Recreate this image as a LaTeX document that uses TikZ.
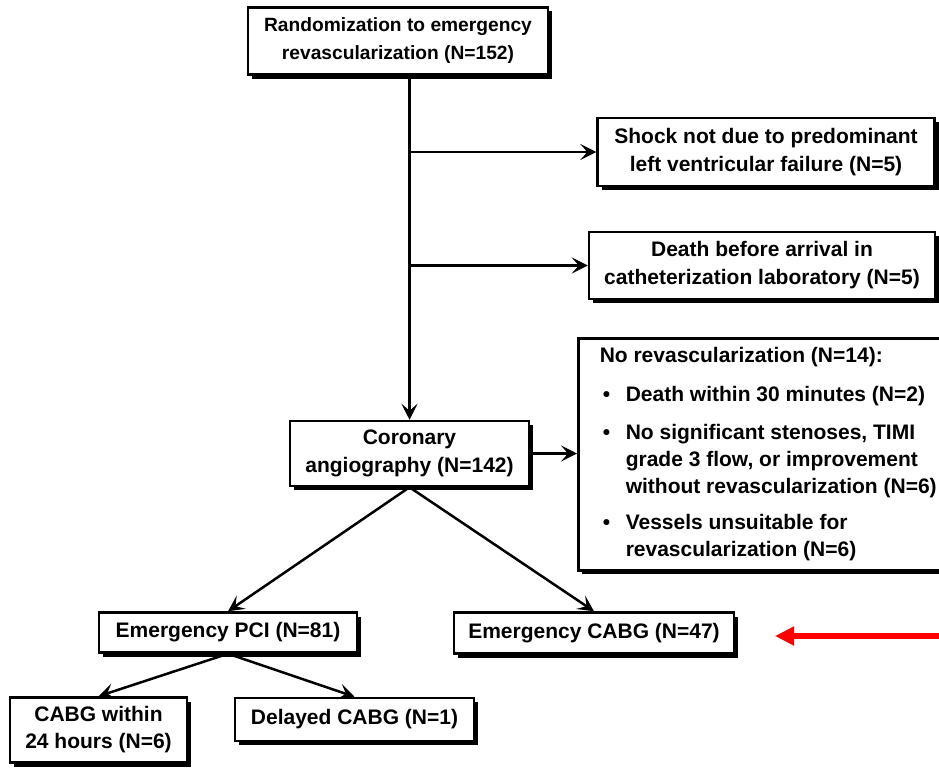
\documentclass[tikz,border=0pt]{standalone}
\usepackage{fontspec}
\setmainfont{Liberation Sans}
\usetikzlibrary{arrows.meta,shadows}

\begin{document}
\begin{tikzpicture}[x=1pt,y=-1pt,
    box/.style={draw,line width=2.5pt,fill=white,align=center,inner sep=0pt,
      font=\bfseries\fontsize{21}{28}\selectfont,
      drop shadow={shadow xshift=4pt,shadow yshift=-4pt,fill=black,opacity=1}},
    flow/.style={line width=2.5pt,-{Stealth[length=16pt,width=16pt,inset=7pt]}}]
  \useasboundingbox (0,0) rectangle (939,768);
  % main column
  \node[box,minimum width=300,minimum height=67,font=\bfseries\fontsize{19.2}{28}\selectfont] (rand) at (398,41)
    {Randomization to emergency\\revascularization (N=152)};
  \node[box,minimum width=239,minimum height=65] (coro) at (409.5,453.5)
    {Coronary\\angiography (N=142)};
  % exclusions on the right
  \node[box,minimum width=337,minimum height=68] (shock) at (766,152)
    {Shock not due to predominant\\left ventricular failure (N=5)};
  \node[box,minimum width=346,minimum height=67] (death) at (762,265.5)
    {Death before arrival in\\catheterization laboratory (N=5)};
  \node[box,anchor=north west,align=left,inner xsep=16pt,inner ysep=5.5pt,
    minimum width=380,font=\bfseries\fontsize{21}{27}\selectfont] (norev) at (577,337)
    {\begin{tabular}{@{}p{26pt}@{}l@{}}
      \multicolumn{2}{@{}l@{}}{No revascularization (N=14):}\\[12pt]
      \hspace{3pt}\textbullet & Death within 30 minutes (N=2)\\[11pt]
      \hspace{3pt}\textbullet & No significant stenoses, TIMI\\
      & grade 3 flow, or improvement\\
      & without revascularization (N=6)\\[9pt]
      \hspace{3pt}\textbullet & Vessels unsuitable for\\
      & revascularization (N=6)
    \end{tabular}};
  % treatment
  \node[box,minimum width=258,minimum height=40] (pci) at (228,632.5)
    {Emergency PCI (N=81)};
  \node[box,minimum width=280,minimum height=41] (ecabg) at (594,633)
    {Emergency CABG (N=47)};
  \node[box,minimum width=177,minimum height=65,font=\bfseries\fontsize{21}{27}\selectfont] (cabgday) at (98.5,730)
    {CABG within\\24 hours (N=6)};
  \node[box,minimum width=239,minimum height=43] (delayed) at (354.5,719.5)
    {Delayed CABG (N=1)};

  \draw[flow] (coro.north |- rand.south) -- (coro.north);
  \draw[flow] (coro.north |- shock.west) -- (shock.west);
  \draw[flow] (coro.north |- death.west) -- (death.west);
  \draw[flow] (coro.east) -- (coro.east -| norev.west);
  \draw[flow] (coro.south) -- (pci.north);
  \draw[flow] (coro.south) -- (ecabg.north);
  \draw[flow] (pci.south) -- (cabgday.north);
  \draw[flow] (pci.south) -- (delayed.north);

  \coordinate (redtail) at (945,636);
  \coordinate (redtip) at (775,636);
  \draw[red,line width=5.5pt,-{Triangle[length=19pt,width=18pt]}] (redtail) -- (redtip);
\end{tikzpicture}
\end{document}
